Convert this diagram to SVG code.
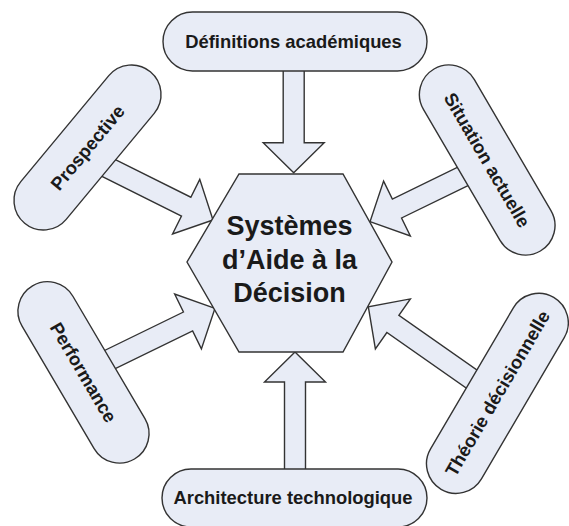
<svg xmlns="http://www.w3.org/2000/svg" width="569" height="526" viewBox="0 0 569 526">
<defs>
<style>
.shape{fill:#E8ECF6;stroke:#333333;stroke-width:1.4;stroke-linejoin:miter}
.lbl{font-family:"Liberation Sans",Arial,sans-serif;font-weight:bold;font-size:18.4px;fill:#1a1a1a;text-anchor:middle}
.hex{font-family:"Liberation Sans",Arial,sans-serif;font-weight:bold;font-size:27px;fill:#1a1a1a;text-anchor:middle}
</style>
</defs>
<rect width="569" height="526" fill="#ffffff"/>
<g id="connectors">
<polygon class="shape" transform="translate(293.7,172.7) rotate(90)" points="0,0 -30,-30.5 -30,-10.5 -112,-10.5 -112,10.5 -30,10.5 -30,30.5"/>
<polygon class="shape" transform="translate(295,352) rotate(-90)" points="0,0 -30,-30.5 -30,-10.5 -128,-10.5 -128,10.5 -30,10.5 -30,30.5"/>
<polygon class="shape" transform="translate(213,220) rotate(26.5)" points="0,0 -30,-30.5 -30,-10.5 -135,-10.5 -135,10.5 -30,10.5 -30,30.5"/>
<polygon class="shape" transform="translate(370,221.7) rotate(154)" points="0,0 -30,-30.5 -30,-10.5 -125,-10.5 -125,10.5 -30,10.5 -30,30.5"/>
<polygon class="shape" transform="translate(215,308.3) rotate(-26)" points="0,0 -30,-30.5 -30,-10.5 -140,-10.5 -140,10.5 -30,10.5 -30,30.5"/>
<polygon class="shape" transform="translate(368.3,306.7) rotate(215)" points="0,0 -30,-30.5 -30,-10.5 -150,-10.5 -150,10.5 -30,10.5 -30,30.5"/>
</g>
<g id="center">
<polygon class="shape" points="239,174 343,174 392,262 343,352 239,352 187,262"/>
<text class="hex" x="289.5" y="235">Systèmes</text>
<text class="hex" x="289.5" y="268.5">d’Aide à la</text>
<text class="hex" x="289.5" y="301.5">Décision</text>
</g>
<g id="definitions">
<rect class="shape" x="163" y="12" width="264" height="59" rx="29.5" ry="29.5"/>
<text class="lbl" x="293.5" y="47.5">Définitions académiques</text>
</g>
<g id="architecture">
<rect class="shape" x="162" y="469" width="265" height="58" rx="29" ry="29"/>
<text class="lbl" x="293" y="504">Architecture technologique</text>
</g>
<g id="prospective" transform="translate(87.5,147.5) rotate(-50.3)">
<rect class="shape" x="-98.4" y="-29.5" width="196.8" height="59" rx="29.5" ry="29.5"/>
<text class="lbl" x="0" y="6.5">Prospective</text>
</g>
<g id="situation" transform="translate(487.2,160) rotate(59.7)">
<rect class="shape" x="-105.4" y="-29.5" width="210.8" height="59" rx="29.5" ry="29.5"/>
<text class="lbl" x="0" y="6.5">Situation actuelle</text>
</g>
<g id="performance" transform="translate(83.5,372.4) rotate(59.5)">
<rect class="shape" x="-100.5" y="-29.5" width="201" height="59" rx="29.5" ry="29.5"/>
<text class="lbl" x="0" y="6.5">Performance</text>
</g>
<g id="theorie" transform="translate(497.4,393.3) rotate(-59.6)">
<rect class="shape" x="-111.3" y="-29.5" width="222.6" height="59" rx="29.5" ry="29.5"/>
<text class="lbl" x="0" y="6.5">Théorie décisionnelle</text>
</g>
</svg>
